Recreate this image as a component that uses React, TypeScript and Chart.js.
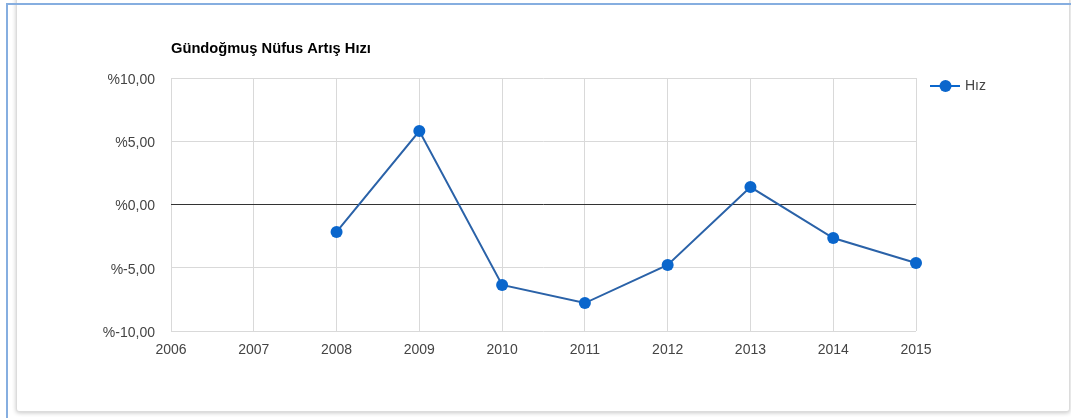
import React, { useEffect, useRef } from "react";
import { Chart, registerables } from "chart.js";

Chart.register(...registerables);

const chartTitle = "Gündoğmuş Nüfus Artış Hızı";
const seriesLabel = "Hız";
const years = [2008, 2009, 2010, 2011, 2012, 2013, 2014, 2015];
const rates = [-2.17, 5.81, -6.36, -7.79, -4.78, 1.38, -2.65, -4.62];
const yTicks = [-10, -5, 0, 5, 10];
const xMin = 2006;
const xMax = 2015;

const fmtY = (v: number) => "%" + v.toFixed(2).replace(".", ",");

const PLOT = { left: 171, right: 916, top: 78, bottom: 331 };
const W = 1071;
const H = 418;

const overlayPlugin = {
  id: "overlay",
  afterDraw(chart: any) {
    const ctx = chart.ctx;
    ctx.save();
    ctx.fillStyle = "#000";
    ctx.font = "bold 14.7px 'Liberation Sans', Arial, sans-serif";
    ctx.textAlign = "left";
    ctx.textBaseline = "alphabetic";
    ctx.fillText(chartTitle, 171, 53);

    // legend
    const ly = 86;
    ctx.strokeStyle = "#0a66cc";
    ctx.lineWidth = 2;
    ctx.beginPath();
    ctx.moveTo(930, ly);
    ctx.lineTo(960, ly);
    ctx.stroke();
    ctx.fillStyle = "#0a66cc";
    ctx.beginPath();
    ctx.arc(945.5, ly, 6, 0, Math.PI * 2);
    ctx.fill();
    ctx.fillStyle = "#444";
    ctx.font = "14px 'Liberation Sans', Arial, sans-serif";
    ctx.textBaseline = "middle";
    ctx.fillText(seriesLabel, 965, ly);
    ctx.restore();
  },
};

export default function App() {
  const ref = useRef<HTMLCanvasElement>(null);
  useEffect(() => {
    if (!ref.current) return;
    const chart = new Chart(ref.current, {
      type: "line",
      data: {
        datasets: [
          {
            label: seriesLabel,
            data: years.map((y, i) => ({ x: y, y: rates[i] })),
            borderColor: "#2a62a8",
            borderWidth: 2,
            backgroundColor: "#0a66cc",
            pointBackgroundColor: "#0a66cc",
            pointBorderWidth: 0,
            pointRadius: 6,
            tension: 0,
            clip: false,
          },
        ],
      },
      options: {
        animation: false,
        responsive: false,
        layout: {
          padding: { left: 0, top: PLOT.top, right: W - PLOT.right, bottom: 0 },
        },
        plugins: {
          legend: { display: false },
          title: { display: false },
          tooltip: { enabled: false },
        },
        scales: {
          x: {
            type: "linear",
            min: xMin,
            max: xMax,
            ticks: {
              stepSize: 1,
              color: "#444",
              font: { family: "'Liberation Sans', Arial, sans-serif", size: 14 },
              padding: 11,
              callback: (v: any) => String(v),
              maxRotation: 0,
            },
            grid: { color: "#d9d9d9", drawTicks: false, lineWidth: 1 },
            border: { display: false },
            afterFit: (s: any) => {
              s.height = H - PLOT.bottom;
            },
          },
          y: {
            min: -10,
            max: 10,
            afterBuildTicks: (s: any) => {
              s.ticks = yTicks.map((v) => ({ value: v }));
            },
            ticks: {
              color: "#444",
              font: { family: "'Liberation Sans', Arial, sans-serif", size: 14 },
              padding: 16,
              labelOffset: 2,
              callback: (v: any) => fmtY(Number(v)),
            },
            grid: {
              color: (c: any) => (c.tick && c.tick.value === 0 ? "#333" : "#d9d9d9"),
              drawTicks: false,
              lineWidth: 1,
            },
            border: { display: false },
            afterFit: (s: any) => {
              s.width = PLOT.left;
            },
          },
        },
      },
      plugins: [overlayPlugin],
    });
    return () => chart.destroy();
  }, []);

  return (
    <div
      style={{
        position: "fixed",
        left: 0,
        top: 0,
        width: W,
        height: H,
        background: "#fff",
        overflow: "hidden",
      }}
    >
      <div
        style={{
          position: "absolute",
          left: 16,
          top: -10,
          width: 1052,
          height: 420,
          border: "1px solid #dcdcdc",
          borderRadius: 3,
          boxShadow: "0 1px 4px rgba(0,0,0,0.22)",
          background: "#fff",
        }}
      />
      <div
        style={{
          position: "absolute",
          left: 6,
          top: 3,
          right: -20,
          bottom: -20,
          borderTop: "2px solid #86aee0",
          borderLeft: "2px solid #86aee0",
        }}
      />
      <canvas
        ref={ref}
        width={W}
        height={H}
        style={{ position: "absolute", left: 0, top: 0, width: W, height: H }}
      />
    </div>
  );
}
